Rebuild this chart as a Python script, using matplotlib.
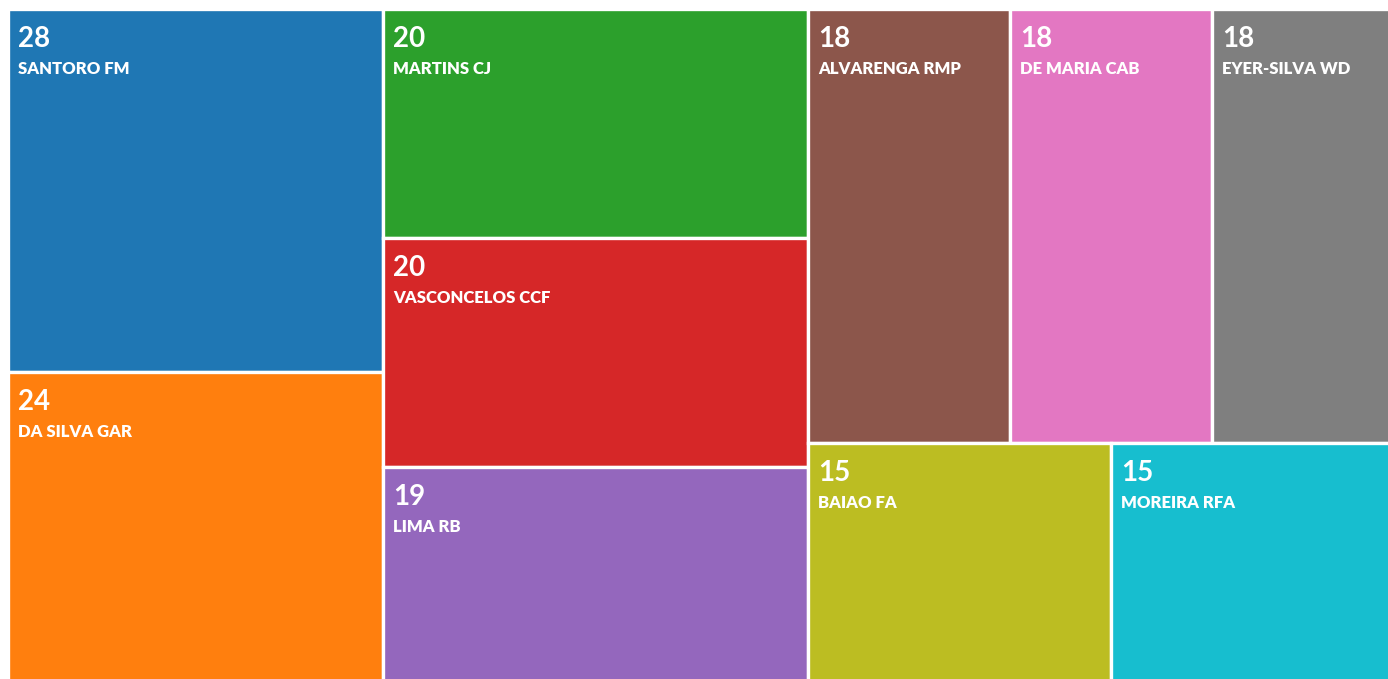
import matplotlib
matplotlib.use("Agg")
import matplotlib.pyplot as plt
from matplotlib.patches import Rectangle

names = ["SANTORO FM", "DA SILVA GAR", "MARTINS CJ", "VASCONCELOS CCF", "LIMA RB",
         "ALVARENGA RMP", "DE MARIA CAB", "EYER-SILVA WD", "BAIAO FA", "MOREIRA RFA"]
counts = [28, 24, 20, 20, 19, 18, 18, 18, 15, 15]
colors = ["#1f77b4", "#ff7f0e", "#2ca02c", "#d62728", "#9467bd",
          "#8c564b", "#e377c2", "#7f7f7f", "#bcbd22", "#17becf"]

PHI = (1 + 5 ** 0.5) / 2


def squarify(values, x0, y0, x1, y1, ratio=PHI):
    # d3-style squarified layout, returns (x, y, w, h) per value
    out = []
    n = len(values)
    total = sum(values)
    i0 = i1 = 0
    while i0 < n:
        dx, dy = x1 - x0, y1 - y0
        s = values[i1]
        i1 += 1
        mn = mx = s
        alpha = max(dy / dx, dx / dy) / (total * ratio)
        beta = s * s * alpha
        best = max(mx / beta, beta / mn)
        while i1 < n:
            v = values[i1]
            s2 = s + v
            mn2, mx2 = min(mn, v), max(mx, v)
            beta = s2 * s2 * alpha
            r = max(mx2 / beta, beta / mn2)
            if r > best:
                break
            s, mn, mx, best = s2, mn2, mx2, r
            i1 += 1
        row = values[i0:i1]
        if dx < dy:
            h = dy * s / total
            x = x0
            for v in row:
                w = dx * v / s
                out.append((x, y0, w, h))
                x += w
            y0 += h
        else:
            w = dx * s / total
            y = y0
            for v in row:
                h = dy * v / s
                out.append((x0, y, w, h))
                y += h
            x0 += w
        total -= s
        i0 = i1
    return out


# the treemap is a bit larger than the visible frame (cut at right and bottom)
W, H = 1406, 675
rects = squarify(counts, 0, 0, W, H)

fig = plt.figure(figsize=(13.88, 6.79), dpi=100)
ax = fig.add_axes([8 / 1388, (679 - 9 - H) / 679, W / 1388, H / 679])
ax.set_xlim(0, W)
ax.set_ylim(H, 0)
ax.axis("off")

for (x, y, w, h), c, name, val in zip(rects, colors, names, counts):
    ax.add_patch(Rectangle((x, y), w, h, facecolor=c, edgecolor="white", linewidth=2.4))
    ax.text(x + 10, y + 38, str(val), color="white", fontsize=20,
            family="Lato", weight="bold", va="baseline", ha="left")
    ax.text(x + 10, y + 65, name, color="white", fontsize=12,
            family="Lato", weight="heavy", va="baseline", ha="left")

fig.savefig("out.png", dpi=100)
